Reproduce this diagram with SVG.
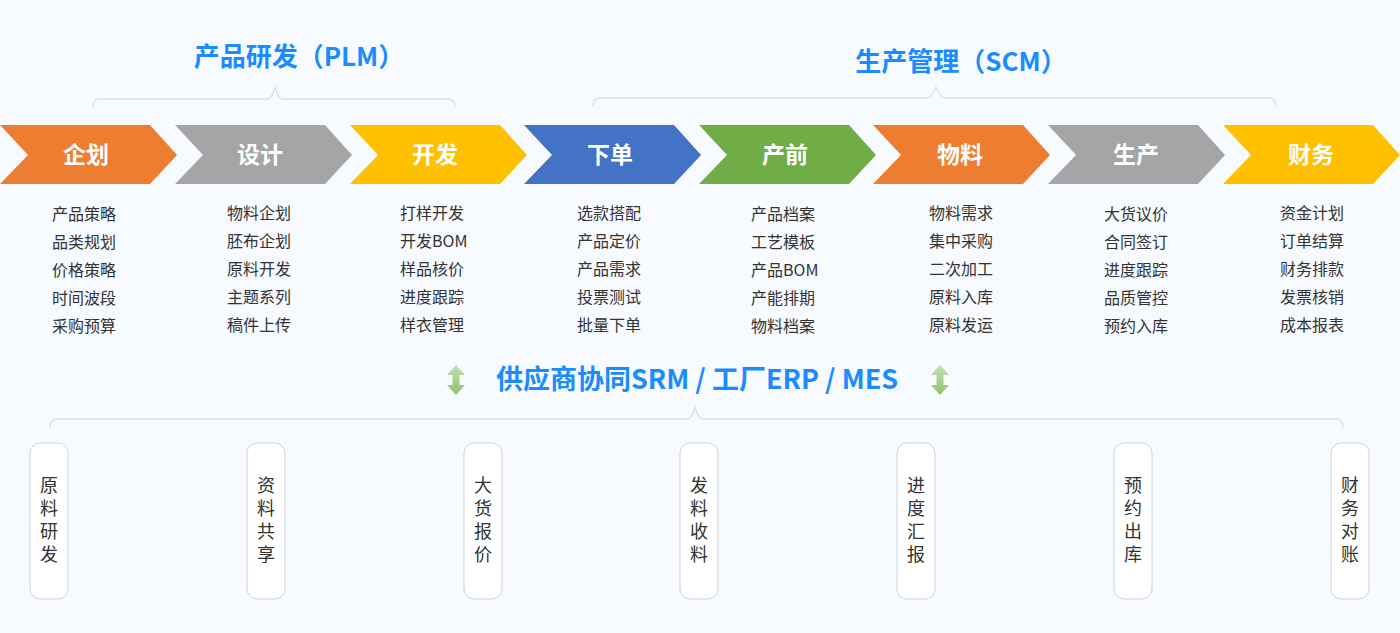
<svg xmlns="http://www.w3.org/2000/svg" width="1400" height="633" viewBox="0 0 1400 633">
<defs>
<style>
.bg{fill:#f7faff}
.title{font-family:"Noto Sans CJK SC","Noto Sans",sans-serif;font-weight:bold;fill:#1a8cff;text-anchor:middle}
.chev-t{font-family:"Noto Sans CJK SC",sans-serif;font-weight:bold;font-size:23px;fill:#ffffff;text-anchor:middle}
.item{font-family:"Noto Sans CJK SC",sans-serif;font-size:16px;fill:#333333}
.brace{fill:none;stroke:#dcdfe6;stroke-width:1.3}
.box{fill:#ffffff;stroke:#cfd3d8;stroke-width:1}
.vt{font-family:"Noto Sans CJK SC",sans-serif;font-size:18px;fill:#333333;writing-mode:vertical-rl;letter-spacing:5px}
</style>
<linearGradient id="grn" x1="0" y1="0" x2="0" y2="1">
<stop offset="0" stop-color="#c5e0b4"/>
<stop offset="0.5" stop-color="#a9d18e"/>
<stop offset="1" stop-color="#8fc26e"/>
</linearGradient>
<path id="chev" d="M0,0 L150,0 L177,30 L150,59 L0,59 L28,30 Z"/>
<path id="darr" d="M0,-15 L9,-5 L3.5,-5 L3.5,5 L9,5 L0,15 L-9,5 L-3.5,5 L-3.5,-5 L-9,-5 Z"/>
</defs>
<rect class="bg" x="0" y="0" width="1400" height="633"/>

<text class="title" x="299" y="66" font-size="26">产品研发（PLM）</text>
<text class="title" x="961" y="71" font-size="26">生产管理（SCM）</text>

<g id="connectors">
<path class="brace" d="M93,107 Q93,99 100,99 L267,99 Q272,99 275,87 Q278,99 283,99 L448,99 Q455,99 455,107"/>
<path class="brace" d="M593,107 Q593,98 600,98 L927,98 Q932,98 936,87 Q940,98 945,98 L1269,98 Q1276,98 1276,107"/>
<path class="brace" d="M50,428 Q50,419 57,419 L687,419 Q692,419 695,407 Q698,419 703,419 L1336,419 Q1343,419 1343,428"/>
</g>

<g id="chevrons">
<g id="n-qihua"><use href="#chev" x="0" y="125" fill="#ed7d31"/><text class="chev-t" x="86" y="163">企划</text></g>
<g id="n-sheji"><use href="#chev" x="175" y="125" fill="#a5a5a5"/><text class="chev-t" x="260" y="163">设计</text></g>
<g id="n-kaifa"><use href="#chev" x="350" y="125" fill="#ffc000"/><text class="chev-t" x="435" y="163">开发</text></g>
<g id="n-xiadan"><use href="#chev" x="524" y="125" fill="#4472c4"/><text class="chev-t" x="610" y="163">下单</text></g>
<g id="n-chanqian"><use href="#chev" x="699" y="125" fill="#70ad47"/><text class="chev-t" x="785" y="163">产前</text></g>
<g id="n-wuliao"><use href="#chev" x="873" y="125" fill="#ed7d31"/><text class="chev-t" x="960" y="163">物料</text></g>
<g id="n-shengchan"><use href="#chev" x="1048" y="125" fill="#a5a5a5"/><text class="chev-t" x="1136" y="163">生产</text></g>
<g id="n-caiwu"><use href="#chev" x="1223" y="125" fill="#ffc000"/><text class="chev-t" x="1311" y="163">财务</text></g>
</g>

<g id="lists">
<g id="l1"><text class="item" x="52" y="220">产品策略</text><text class="item" x="52" y="248">品类规划</text><text class="item" x="52" y="276">价格策略</text><text class="item" x="52" y="304">时间波段</text><text class="item" x="52" y="332">采购预算</text></g>
<g id="l2"><text class="item" x="227" y="219">物料企划</text><text class="item" x="227" y="247">胚布企划</text><text class="item" x="227" y="275">原料开发</text><text class="item" x="227" y="303">主题系列</text><text class="item" x="227" y="331">稿件上传</text></g>
<g id="l3"><text class="item" x="400" y="219">打样开发</text><text class="item" x="400" y="247">开发BOM</text><text class="item" x="400" y="275">样品核价</text><text class="item" x="400" y="303">进度跟踪</text><text class="item" x="400" y="331">样衣管理</text></g>
<g id="l4"><text class="item" x="577" y="219">选款搭配</text><text class="item" x="577" y="247">产品定价</text><text class="item" x="577" y="275">产品需求</text><text class="item" x="577" y="303">投票测试</text><text class="item" x="577" y="331">批量下单</text></g>
<g id="l5"><text class="item" x="751" y="220">产品档案</text><text class="item" x="751" y="248">工艺模板</text><text class="item" x="751" y="276">产品BOM</text><text class="item" x="751" y="304">产能排期</text><text class="item" x="751" y="332">物料档案</text></g>
<g id="l6"><text class="item" x="929" y="219">物料需求</text><text class="item" x="929" y="247">集中采购</text><text class="item" x="929" y="275">二次加工</text><text class="item" x="929" y="303">原料入库</text><text class="item" x="929" y="331">原料发运</text></g>
<g id="l7"><text class="item" x="1104" y="220">大货议价</text><text class="item" x="1104" y="248">合同签订</text><text class="item" x="1104" y="276">进度跟踪</text><text class="item" x="1104" y="304">品质管控</text><text class="item" x="1104" y="332">预约入库</text></g>
<g id="l8"><text class="item" x="1280" y="219">资金计划</text><text class="item" x="1280" y="247">订单结算</text><text class="item" x="1280" y="275">财务排款</text><text class="item" x="1280" y="303">发票核销</text><text class="item" x="1280" y="331">成本报表</text></g>
</g>

<g id="middle">
<use href="#darr" x="456" y="380" fill="url(#grn)"/>
<use href="#darr" x="940" y="380" fill="url(#grn)"/>
<text class="title" x="697" y="389" font-size="27">供应商协同SRM / 工厂ERP / MES</text>
</g>

<g id="boxes">
<g id="b1"><rect class="box" x="30" y="443" width="38" height="156" rx="10"/><text class="vt" x="49" y="476">原料研发</text></g>
<g id="b2"><rect class="box" x="247" y="443" width="38" height="156" rx="10"/><text class="vt" x="266" y="476">资料共享</text></g>
<g id="b3"><rect class="box" x="464" y="443" width="38" height="156" rx="10"/><text class="vt" x="483" y="476">大货报价</text></g>
<g id="b4"><rect class="box" x="680" y="443" width="38" height="156" rx="10"/><text class="vt" x="699" y="476">发料收料</text></g>
<g id="b5"><rect class="box" x="897" y="443" width="38" height="156" rx="10"/><text class="vt" x="916" y="476">进度汇报</text></g>
<g id="b6"><rect class="box" x="1114" y="443" width="38" height="156" rx="10"/><text class="vt" x="1133" y="476">预约出库</text></g>
<g id="b7"><rect class="box" x="1331" y="443" width="38" height="156" rx="10"/><text class="vt" x="1350" y="476">财务对账</text></g>
</g>
</svg>
